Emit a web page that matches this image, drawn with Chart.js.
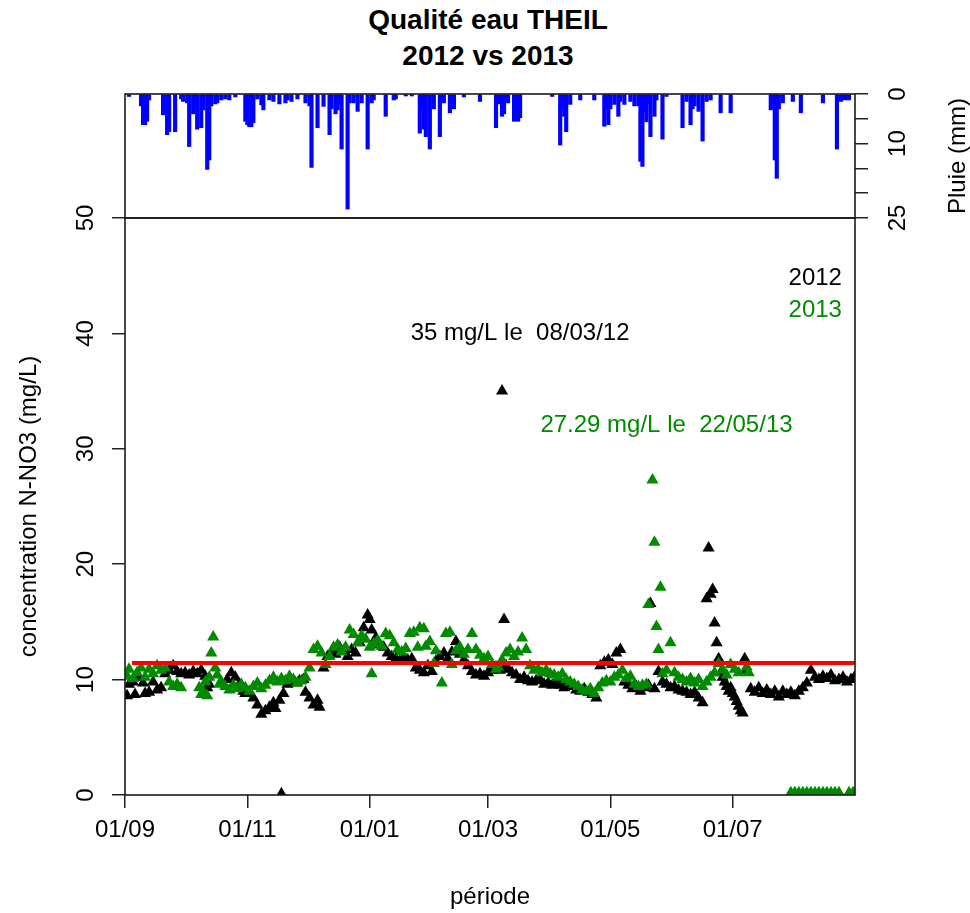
<!DOCTYPE html>
<html>
<head>
<meta charset="utf-8">
<script src="https://cdn.jsdelivr.net/npm/chart.js@4/dist/chart.umd.min.js"></script>
<style>
  body { margin: 0; background: #fff; }
  #wrap { position: relative; width: 970px; height: 913px; }
  #wrap canvas { position: absolute; left: 0; top: 0; }
  #titre { position: absolute; left: 0; top: 2px; width: 976px; text-align: center;
           font: bold 28px "Liberation Sans", Arial, sans-serif; line-height: 36px; color: #000; }
</style>
</head>
<body>
<div id="wrap">
  <div id="titre">Qualité eau THEIL<br>2012 vs 2013</div>
  <canvas id="concGrafic" width="970" height="913"></canvas>
  <canvas id="pluieGrafic" width="970" height="913"></canvas>
</div>
<script>
// jours comptés depuis le 01/09
var tickDays = [0, 61, 122, 181, 242, 303];
var tickLabels = ['01/09', '01/11', '01/01', '01/03', '01/05', '01/07'];

// 2012 (noir)
var days2012 = [1,2,4,5,7,9,10,12,14,16,18,20,22,24,26,28,30,32,34,36,38,40,41,42,51,53,55,57,59,60,62,64,66,68,70,72,74,75,77,78,79,81,83,85,87,89,90,92,94,96,97,
  99,101,103,105,107,109,111,113,115,117,119,121,122,123,125,127,129,131,133,135,137,139,141,143,145,147,149,151,153,155,157,159,161,163,165,167,169,171,173,175,177,179,181,183,185,187,188,189,190,
  191,193,195,197,199,201,203,205,207,209,211,213,215,217,219,221,223,225,227,229,231,233,235,237,239,241,243,245,247,249,251,253,255,257,259,261,262,264,266,268,270,272,274,276,278,280,282,284,286,288,
  290,291,292,293,294,295,296,297,298,299,300,301,302,303,304,305,306,307,308,309,310,312,314,316,318,320,322,324,326,328,330,332,334,336,338,340,342,344,346,348,350,352,354,356,358,360,362,364];
var no3_2012 = [8.6,9.6,9.8,8.7,10.2,9.7,8.8,8.9,9.8,9.1,9.3,10.5,10.8,11.2,10.7,10.5,10.6,10.4,10.7,10.5,10.8,10.3,9.3,9.6,10.0,10.6,10.2,9.6,9.0,8.8,8.9,8.4,7.8,7.0,7.3,7.6,8.0,7.5,8.2,0.1,8.8,9.6,9.8,9.7,9.9,10.0,8.9,8.4,7.8,8.2,7.6,
  11.0,12.0,12.4,12.2,12.8,12.5,12.0,12.6,12.3,13.2,14.5,15.6,15.2,14.3,13.6,13.0,12.8,12.3,12.0,11.8,11.6,11.9,11.7,11.8,11.0,10.8,10.6,11.2,10.7,11.6,12.0,12.3,11.8,12.4,13.3,12.2,11.7,11.2,10.7,10.4,10.5,10.3,10.6,10.8,11.1,10.8,35.0,15.2,11.2,
  10.9,10.6,10.4,10.0,10.2,9.9,9.8,9.9,10.0,9.6,9.7,9.5,9.8,9.5,9.3,9.6,9.4,9.1,9.0,9.2,8.9,8.7,8.4,11.2,11.5,11.7,11.3,12.3,12.6,9.8,9.5,9.2,9.4,9.0,9.3,9.5,16.6,9.2,10.7,9.8,9.6,9.3,9.4,9.1,9.0,8.9,8.7,8.9,8.4,8.0,
  17.0,21.4,17.4,17.8,14.9,13.2,11.8,10.6,10.2,9.8,9.4,9.0,9.3,8.8,8.5,8.1,7.7,7.3,7.1,11.8,10.8,9.2,8.9,9.3,8.8,9.1,8.7,9.0,8.5,9.0,8.7,8.9,8.6,9.0,9.3,9.7,10.8,10.2,10.0,10.3,10.1,10.4,9.9,10.0,10.2,9.8,10.0,10.3];

// 2013 (vert)
var days2013 = [1,2,4,6,8,10,12,14,16,18,20,22,24,26,28,37,38,39,40,41,42,43,44,45,46,47,48,50,52,54,56,58,60,62,64,66,68,70,72,74,76,78,80,82,84,86,88,90,92,94,96,98,100,
  102,104,106,108,110,112,114,116,118,120,122,123,124,126,128,130,132,134,136,138,140,142,144,146,147,149,150,152,154,155,158,160,162,163,165,167,169,171,173,175,177,179,181,183,185,
  186,188,190,192,194,196,198,200,202,204,206,208,210,212,214,216,218,220,222,224,226,228,230,232,234,236,238,240,242,244,246,248,250,252,254,256,258,260,261,263,264,265,266,267,268,270,272,274,276,278,280,282,284,286,288,290,292,294,296,298,300,302,304,306,310,311,
  332,334,336,338,340,342,344,346,348,350,352,354,356,361,363];
var no3_2013 = [10.3,10.9,10.1,10.6,11.0,10.2,10.9,10.5,11.2,10.8,11.0,9.8,9.4,9.6,9.3,9.3,8.7,9.0,9.8,8.6,10.2,12.3,13.7,11.0,10.4,9.6,9.8,9.4,9.1,9.5,9.2,9.6,9.3,9.0,9.4,9.7,9.2,9.5,9.9,10.2,9.8,10.1,9.9,10.3,10.0,9.7,9.9,10.2,11.0,12.6,12.9,12.3,11.3,
  12.0,12.8,13.0,12.4,12.8,14.3,13.9,13.2,13.8,13.5,12.8,10.5,13.1,13.4,12.9,14.0,13.8,13.2,12.6,12.4,12.7,14.0,14.1,12.8,14.5,14.4,12.9,13.3,11.4,12.5,9.7,14.0,14.1,11.3,12.5,12.8,12.2,12.6,14.0,12.6,12.1,11.8,12.0,11.3,10.9,
  11.1,11.7,12.3,12.6,12.0,12.4,13.6,12.6,11.2,10.8,10.9,10.6,10.8,10.5,10.4,10.2,10.5,10.0,9.8,9.6,9.4,9.1,9.0,9.2,8.8,9.3,9.7,9.9,9.8,10.2,10.4,10.8,10.1,10.3,9.6,9.4,9.5,9.6,16.5,27.29,21.9,14.6,12.6,18.0,10.5,10.8,13.2,10.6,10.2,10.0,9.8,10.1,9.7,10.0,9.4,9.8,10.2,10.6,11.4,10.8,10.4,11.3,10.9,10.6,11.1,10.6,
  0.2,0.2,0.2,0.2,0.2,0.2,0.2,0.2,0.2,0.2,0.2,0.2,0.2,0.2,0.2];

// moyenne (trait rouge)
var meanDays = [3.5, 364];
var meanNo3 = [11.44, 11.44];

// pluie journalière (mm)
var rainDays = [2,8,9,10,11,12,19,21,22,25,28,29,31,32,34,35,36,38,39,41,42,43,45,46,48,50,52,55,60,61,62,63,64,66,68,69,72,74,77,80,81,83,86,90,92,93,96,99,102,103,105,106,107,108,111,112,114,116,118,121,123,124,130,134,135,140,143,
  147,148,149,150,152,154,157,159,162,164,169,177,185,186,188,189,191,194,196,197,213,217,218,219,220,222,227,234,239,240,241,242,244,246,247,249,252,254,256,257,258,259,260,261,262,264,265,268,270,
  278,280,282,283,284,286,288,290,292,297,302,322,323,324,325,326,328,333,337,348,355,357,359,361];
var rainMm = [0.5,2.4,6.2,6.2,5.5,1.2,4.2,8.2,7.6,7.6,1.0,1.5,1.8,10.6,4.0,3.2,7.1,6.8,3.2,15.2,13.3,2.4,2.0,1.8,1.2,1.0,1.2,0.6,5.5,6.2,6.6,6.6,5.8,1.0,2.2,3.2,1.2,1.5,2.0,1.8,1.2,1.5,1.0,1.8,2.4,14.8,6.8,2.5,8.2,3.0,4.0,3.2,2.0,11.1,23.2,1.8,1.8,3.5,1.8,11.1,1.8,1.2,4.5,1.2,1.0,0.4,0.4,
  7.9,3.0,7.1,8.6,11.1,3.0,8.6,1.8,3.8,3.0,0.6,1.5,6.8,2.0,4.5,4.0,1.8,5.5,5.5,4.8,0.5,10.3,3.0,4.5,7.6,2.1,1.2,1.2,6.5,3.0,6.2,3.0,2.1,4.5,1.5,2.1,1.5,2.4,2.4,13.6,14.6,3.5,5.6,2.0,8.6,4.5,1.2,9.1,0.5,
  6.8,1.5,6.2,3.0,2.4,3.5,9.5,1.5,1.2,3.8,3.8,3.2,2.0,13.3,17.0,3.0,1.8,1.5,3.8,1.8,11.1,1.5,1.2,1.2];

var peakLabels = ['35 mg/L le  08/03/12', '27.29 mg/L le  22/05/13'];
var legendLabels = ['2012', '2013'];

var VERT = '#008B00';
var FONT = '"Liberation Sans", Arial, sans-serif';
Chart.defaults.font.family = FONT;
Chart.defaults.color = '#000';

function pts(xs, ys) {
  return xs.map(function (d, i) { return { x: d, y: ys[i] }; });
}

// cadre autour de la zone de tracé
var cadre = {
  id: 'cadre',
  afterDraw: function (chart) {
    var a = chart.chartArea, ctx = chart.ctx;
    ctx.save();
    ctx.strokeStyle = '#1a1a1a';
    ctx.lineWidth = 1.6;
    ctx.strokeRect(a.left, a.top, a.right - a.left, a.bottom - a.top);
    ctx.restore();
  }
};

// textes dans le graphique
var textes = {
  id: 'textes',
  afterDatasetsDraw: function (chart) {
    var ctx = chart.ctx, sx = chart.scales.x, sy = chart.scales.y;
    ctx.save();
    ctx.font = '24px ' + FONT;
    ctx.textBaseline = 'middle';
    ctx.textAlign = 'center';
    ctx.fillStyle = '#000';
    ctx.fillText(peakLabels[0], sx.getPixelForValue(197), sy.getPixelForValue(40));
    ctx.fillStyle = VERT;
    ctx.fillText(peakLabels[1], sx.getPixelForValue(270), sy.getPixelForValue(32));
    ctx.textAlign = 'right';
    ctx.fillStyle = '#000';
    ctx.fillText(legendLabels[0], sx.getPixelForValue(357.5), sy.getPixelForValue(44.8));
    ctx.fillStyle = VERT;
    ctx.fillText(legendLabels[1], sx.getPixelForValue(357.5), sy.getPixelForValue(42.0));
    ctx.restore();
  }
};

var titrePluie = {
  id: 'titrePluie',
  afterDraw: function (chart) {
    var a = chart.chartArea, ctx = chart.ctx;
    ctx.save();
    ctx.font = '24px ' + FONT;
    ctx.fillStyle = '#000';
    ctx.textAlign = 'center';
    ctx.textBaseline = 'middle';
    ctx.translate(958, (a.top + a.bottom) / 2);
    ctx.rotate(-Math.PI / 2);
    ctx.fillText('Pluie (mm)', 0, 0);
    ctx.restore();
  }
};

var axeGrid = { display: true, drawOnChartArea: false, drawTicks: true, tickLength: 13, color: '#222', lineWidth: 1.5 };

// graphique principal : concentrations
new Chart(document.getElementById('concGrafic'), {
  type: 'scatter',
  data: {
    datasets: [
      { data: pts(meanDays, meanNo3), showLine: true, borderColor: '#FF0000', borderWidth: 4, pointRadius: 0 },
      { data: pts(days2013, no3_2013), pointStyle: 'triangle', pointRadius: 7, backgroundColor: VERT, borderWidth: 0 },
      { data: pts(days2012, no3_2012), pointStyle: 'triangle', pointRadius: 7, backgroundColor: '#000', borderWidth: 0 }
    ]
  },
  options: {
    responsive: false,
    animation: false,
    layout: { padding: { left: 0, top: 218, right: 115, bottom: 0 } },
    plugins: { legend: { display: false }, tooltip: { enabled: false } },
    scales: {
      x: {
        type: 'linear', min: 0, max: 364,
        afterFit: function (s) { s.height = 118; },
        afterBuildTicks: function (s) { s.ticks = tickDays.map(function (v) { return { value: v }; }); },
        grid: axeGrid,
        border: { display: false },
        ticks: { autoSkip: false, maxRotation: 0, padding: 8, font: { size: 24 },
                 callback: function (v) { return tickLabels[tickDays.indexOf(v)]; } },
        title: { display: true, text: 'période', font: { size: 24 }, padding: { top: 0, bottom: 1 } }
      },
      y: {
        min: 0, max: 50,
        afterFit: function (s) { s.width = 125; },
        grid: axeGrid,
        border: { display: false },
        ticks: { stepSize: 10, autoSkip: false, minRotation: 90, maxRotation: 90, crossAlign: 'center', padding: 12, font: { size: 24 } },
        title: { display: true, text: 'concentration N-NO3 (mg/L)', font: { size: 24 }, padding: { top: 15, bottom: 0 } }
      }
    }
  },
  plugins: [cadre, textes]
});

// panneau du haut : pluie
new Chart(document.getElementById('pluieGrafic'), {
  type: 'bar',
  data: {
    datasets: [
      { data: pts(rainDays, rainMm), backgroundColor: '#0000FF', barThickness: 3.5, borderWidth: 0 }
    ]
  },
  options: {
    responsive: false,
    animation: false,
    layout: { padding: { left: 125, top: 94, right: 0, bottom: 695 } },
    plugins: { legend: { display: false }, tooltip: { enabled: false } },
    scales: {
      x: { type: 'linear', min: 0, max: 364, offset: false, display: false },
      y: {
        position: 'right', reverse: true, min: 0, max: 25,
        afterFit: function (s) { s.width = 115; },
        grid: axeGrid,
        border: { display: false },
        ticks: { stepSize: 5, autoSkip: false, minRotation: 90, maxRotation: 90, crossAlign: 'center', padding: 17, font: { size: 24 },
                 callback: function (v) { return (v === 0 || v === 10 || v === 25) ? v : ''; } }
      }
    }
  },
  plugins: [cadre, titrePluie]
});
</script>
</body>
</html>
